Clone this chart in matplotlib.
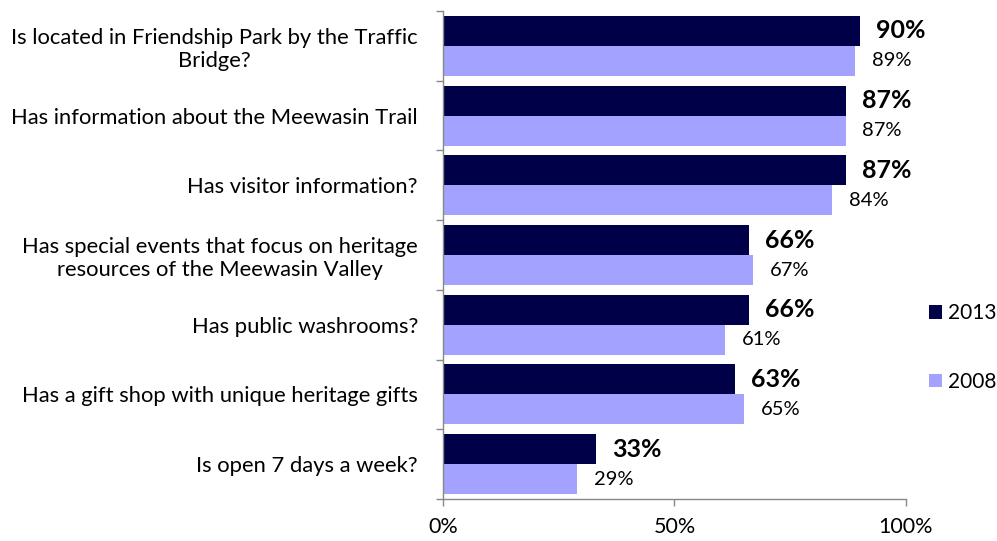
import matplotlib
matplotlib.use("Agg")
import matplotlib.pyplot as plt
import numpy as np

plt.rcParams["font.family"] = ["Lato", "DejaVu Sans"]

categories = [
    "Is located in Friendship Park by the Traffic\nBridge?",
    "Has information about the Meewasin Trail",
    "Has visitor information?",
    "Has special events that focus on heritage\nresources of the Meewasin Valley",
    "Has public washrooms?",
    "Has a gift shop with unique heritage gifts",
    "Is open 7 days a week?",
]
vals_2013 = [90, 87, 87, 66, 66, 63, 33]
vals_2008 = [89, 87, 84, 67, 61, 65, 29]
series = ["2013", "2008"]
colors = ["#000048", "#A3A3FF"]
x_ticks = [0, 50, 100]

fig = plt.figure(figsize=(9.97, 5.41), dpi=100)
ax = fig.add_axes([0.4443, 0.0776, 0.4644, 0.902])

y = np.arange(len(categories))
h = 0.43
ax.barh(y - h / 2, vals_2013, height=h, color=colors[0], label=series[0])
ax.barh(y + h / 2, vals_2008, height=h, color=colors[1], label=series[1])

for yi, v in zip(y, vals_2013):
    ax.annotate(f"{v}%", (v, yi - h / 2), xytext=(12, 0), textcoords="offset points",
                ha="left", va="center", fontsize=18, fontweight="bold")
for yi, v in zip(y, vals_2008):
    ax.annotate(f"{v}%", (v, yi + h / 2), xytext=(12, 0), textcoords="offset points",
                ha="left", va="center", fontsize=14.5)

ax.set_xlim(0, 100)
ax.set_ylim(len(categories) - 0.5, -0.5)
ax.set_xticks(x_ticks)
ax.set_xticklabels([f"{t}%" for t in x_ticks], fontsize=15.5)

ax.set_yticks(y)
ax.set_yticklabels(categories, fontsize=15.8)
for lbl in ax.get_yticklabels():
    lbl.set_multialignment("center")
ax.set_yticks(np.arange(len(categories) + 1) - 0.5, minor=True)
ax.tick_params(axis="y", which="major", length=0, pad=18)
ax.tick_params(axis="y", which="minor", length=5, color="#888888", width=1)
ax.tick_params(axis="x", length=5, color="#888888", width=1, pad=8)

for s in ["top", "right"]:
    ax.spines[s].set_visible(False)
for s in ["left", "bottom"]:
    ax.spines[s].set_color("#888888")
    ax.spines[s].set_linewidth(1)

ax.legend(loc="center left", bbox_to_anchor=(1.032, 0.31), frameon=False,
          fontsize=15, handlelength=0.6, handleheight=0.6,
          handletextpad=0.3, labelspacing=2.35, borderaxespad=0)

fig.savefig("out.png", dpi=100)
